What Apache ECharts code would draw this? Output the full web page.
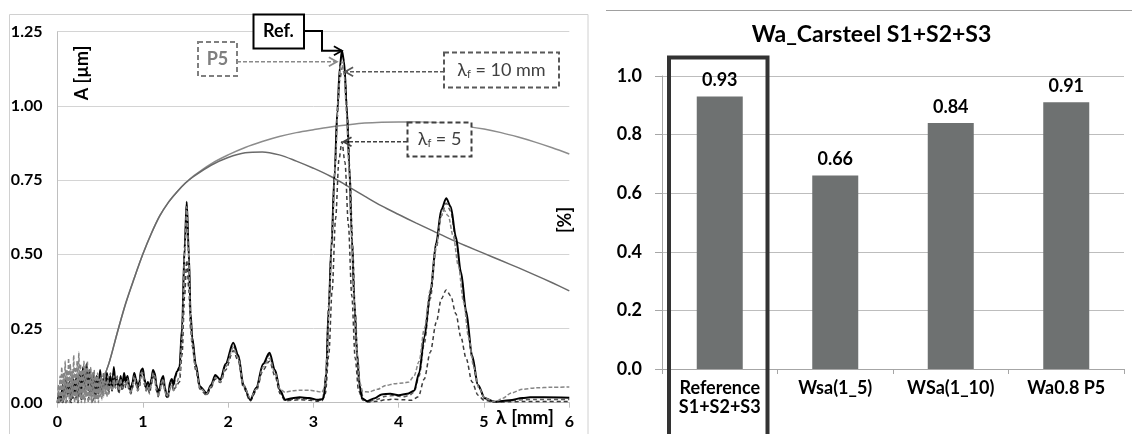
<!DOCTYPE html>
<html>
<head>
<meta charset="utf-8">
<title>Wa_Carsteel</title>
<script src="https://cdn.jsdelivr.net/npm/echarts@6/dist/echarts.min.js"></script>
<style>
    html, body { margin: 0; padding: 0; background: #fff; }
    #main { width: 1132px; height: 434px; }
</style>
</head>
<body>
<div id="main"></div>
<script>
// wavelength grid of the noisy short-wave part [mm]
var lamNoise = [0.00, 0.02, 0.04, 0.06, 0.08, 0.10, 0.12, 0.14, 0.16, 0.18,
    0.20, 0.22, 0.24, 0.26, 0.28, 0.30, 0.32, 0.34, 0.36, 0.38,
    0.40, 0.42, 0.44, 0.46, 0.48, 0.50, 0.52, 0.54, 0.56, 0.58,
    0.60, 0.62, 0.64, 0.66, 0.68, 0.70, 0.72, 0.74, 0.76, 0.78,
    0.80, 0.82, 0.84, 0.86, 0.88, 0.90, 0.92, 0.94, 0.96, 0.98,
    1.00, 1.02, 1.04, 1.06, 1.08, 1.10, 1.12, 1.14, 1.16, 1.18,
    1.20, 1.22, 1.24, 1.26, 1.28, 1.30, 1.32, 1.34, 1.36, 1.38, 1.40];
// finer grid for the P5 profile (dense grey band at the start)
var lamFine = [0.00, 0.01, 0.02, 0.03, 0.04, 0.05, 0.06, 0.07, 0.08, 0.09,
    0.10, 0.11, 0.12, 0.13, 0.14, 0.15, 0.16, 0.17, 0.18, 0.19,
    0.20, 0.21, 0.22, 0.23, 0.24, 0.25, 0.26, 0.27, 0.28, 0.29,
    0.30, 0.31, 0.32, 0.33, 0.34, 0.35, 0.36, 0.37, 0.38, 0.39,
    0.40, 0.41, 0.42, 0.43, 0.44, 0.45, 0.46, 0.47, 0.48, 0.49,
    0.50, 0.51, 0.52, 0.53, 0.54, 0.55, 0.56, 0.57, 0.58, 0.59,
    0.60, 0.62, 0.64, 0.66, 0.68, 0.70, 0.72, 0.74, 0.76, 0.78,
    0.80, 0.82, 0.84, 0.86, 0.88, 0.90, 0.92, 0.94, 0.96, 0.98,
    1.00, 1.02, 1.04, 1.06, 1.08, 1.10, 1.12, 1.14, 1.16, 1.18,
    1.20, 1.22, 1.24, 1.26, 1.28, 1.30, 1.32, 1.34, 1.36, 1.38, 1.40];

// amplitudes A [um]
var refNoise = [0.00, 0.03, 0.01, 0.06, 0.02, 0.08, 0.03, 0.07, 0.01, 0.09,
    0.03, 0.08, 0.02, 0.10, 0.04, 0.12, 0.05, 0.13, 0.06, 0.11,
    0.04, 0.10, 0.03, 0.09, 0.05, 0.11, 0.04, 0.08, 0.06, 0.10,
    0.05, 0.09, 0.04, 0.12, 0.06, 0.08, 0.04, 0.09, 0.05, 0.10,
    0.07, 0.09, 0.06, 0.04, 0.07, 0.10, 0.08, 0.05, 0.07, 0.11,
    0.115, 0.08, 0.05, 0.07, 0.045, 0.08, 0.11, 0.10, 0.06, 0.03,
    0.05, 0.08, 0.09, 0.05, 0.02, 0.03, 0.07, 0.08, 0.06, 0.09, 0.105];
var p5Noise = [0.00, 0.06, 0.00, 0.09, 0.01, 0.12, 0.00, 0.10, 0.01, 0.14,
    0.00, 0.11, 0.02, 0.15, 0.00, 0.13, 0.01, 0.11, 0.02, 0.16,
    0.00, 0.12, 0.01, 0.14, 0.00, 0.17, 0.02, 0.13, 0.00, 0.11,
    0.01, 0.14, 0.00, 0.12, 0.02, 0.14, 0.00, 0.11, 0.01, 0.12,
    0.00, 0.10, 0.02, 0.11, 0.00, 0.09, 0.01, 0.10, 0.00, 0.08,
    0.02, 0.09, 0.01, 0.08, 0.02, 0.10, 0.03, 0.07, 0.02, 0.09,
    0.03, 0.07, 0.04, 0.09, 0.05, 0.08, 0.04, 0.08, 0.05, 0.07,
    0.06, 0.08, 0.05, 0.03, 0.06, 0.09, 0.07, 0.04, 0.06, 0.10,
    0.10, 0.07, 0.04, 0.06, 0.04, 0.07, 0.10, 0.09, 0.05, 0.02,
    0.04, 0.07, 0.08, 0.04, 0.02, 0.03, 0.05, 0.05, 0.04, 0.05, 0.07];
var f10Noise = [0.00, 0.02, 0.00, 0.04, 0.01, 0.06, 0.02, 0.07, 0.01, 0.08,
    0.02, 0.09, 0.03, 0.10, 0.02, 0.11, 0.03, 0.12, 0.04, 0.10,
    0.03, 0.09, 0.04, 0.08, 0.03, 0.09, 0.04, 0.10, 0.05, 0.08,
    0.04, 0.10, 0.05, 0.11, 0.05, 0.09, 0.03, 0.08, 0.04, 0.09,
    0.06, 0.08, 0.05, 0.035, 0.06, 0.09, 0.07, 0.045, 0.06, 0.10,
    0.105, 0.07, 0.045, 0.06, 0.04, 0.07, 0.10, 0.09, 0.05, 0.025,
    0.045, 0.07, 0.08, 0.045, 0.02, 0.025, 0.06, 0.07, 0.05, 0.08, 0.10];
var f5Noise = [0.00, 0.00, 0.01, 0.00, 0.01, 0.00, 0.01, 0.01, 0.00, 0.02,
    0.01, 0.02, 0.00, 0.03, 0.01, 0.02, 0.01, 0.03, 0.01, 0.04,
    0.02, 0.05, 0.02, 0.06, 0.02, 0.07, 0.03, 0.08, 0.04, 0.07,
    0.03, 0.09, 0.04, 0.10, 0.05, 0.08, 0.03, 0.08, 0.04, 0.09,
    0.05, 0.07, 0.04, 0.03, 0.05, 0.08, 0.06, 0.04, 0.05, 0.09,
    0.095, 0.06, 0.04, 0.05, 0.03, 0.06, 0.09, 0.08, 0.04, 0.02,
    0.04, 0.06, 0.07, 0.04, 0.015, 0.02, 0.05, 0.06, 0.04, 0.05, 0.06];

// long-wave part [lambda, A]
var refPeaks = [[1.43, 0.12], [1.46, 0.25], [1.49, 0.52], [1.515, 0.677], [1.54, 0.50], [1.56, 0.30], [1.58, 0.22],
    [1.62, 0.13], [1.67, 0.055], [1.75, 0.032], [1.80, 0.06], [1.85, 0.093], [1.91, 0.078], [1.97, 0.13],
    [2.06, 0.202], [2.12, 0.16], [2.18, 0.06], [2.26, 0.01], [2.33, 0.05], [2.41, 0.13], [2.485, 0.168],
    [2.55, 0.11], [2.61, 0.04], [2.67, 0.01], [2.75, 0.015], [2.84, 0.018], [2.95, 0.016], [3.05, 0.01],
    [3.10, 0.012], [3.12, 0.015], [3.15, 0.10], [3.18, 0.32], [3.21, 0.52], [3.25, 0.78], [3.28, 0.98],
    [3.31, 1.13], [3.334, 1.186], [3.36, 1.15], [3.39, 1.00], [3.42, 0.80], [3.45, 0.56], [3.48, 0.34],
    [3.51, 0.17], [3.54, 0.06], [3.57, 0.015], [3.63, 0.005], [3.72, 0.015], [3.80, 0.028], [3.90, 0.03],
    [4.00, 0.025], [4.10, 0.03], [4.18, 0.04], [4.24, 0.10], [4.30, 0.22], [4.37, 0.37], [4.44, 0.54],
    [4.50, 0.65], [4.557, 0.689], [4.61, 0.66], [4.67, 0.56], [4.73, 0.44], [4.79, 0.31], [4.86, 0.16],
    [4.93, 0.06], [5.01, 0.015], [5.13, 0.003], [5.30, 0.008], [5.45, 0.016], [5.54, 0.018], [5.70, 0.018],
    [6.00, 0.017]];
var p5Peaks = [[1.43, 0.09], [1.46, 0.22], [1.49, 0.50], [1.515, 0.66], [1.54, 0.48], [1.56, 0.28], [1.58, 0.20],
    [1.62, 0.12], [1.67, 0.05], [1.75, 0.03], [1.80, 0.055], [1.85, 0.085], [1.91, 0.07], [1.97, 0.12],
    [2.06, 0.185], [2.12, 0.15], [2.18, 0.06], [2.26, 0.015], [2.33, 0.045], [2.41, 0.12], [2.485, 0.15],
    [2.55, 0.10], [2.61, 0.045], [2.67, 0.035], [2.75, 0.04], [2.84, 0.042], [2.95, 0.042], [3.05, 0.038],
    [3.10, 0.035], [3.13, 0.05], [3.16, 0.15], [3.19, 0.38], [3.22, 0.58], [3.26, 0.82], [3.29, 1.02],
    [3.315, 1.13], [3.334, 1.15], [3.36, 1.11], [3.39, 0.97], [3.42, 0.78], [3.45, 0.55], [3.48, 0.34],
    [3.51, 0.17], [3.54, 0.07], [3.58, 0.037], [3.65, 0.036], [3.75, 0.045], [3.85, 0.058], [3.95, 0.064],
    [4.05, 0.066], [4.12, 0.07], [4.18, 0.09], [4.24, 0.14], [4.30, 0.25], [4.37, 0.38], [4.44, 0.53],
    [4.50, 0.63], [4.53, 0.649], [4.58, 0.63], [4.64, 0.56], [4.70, 0.46], [4.76, 0.34], [4.82, 0.22],
    [4.88, 0.12], [4.94, 0.05], [5.01, 0.015], [5.13, 0.003], [5.22, 0.015], [5.32, 0.033], [5.45, 0.045],
    [5.60, 0.05], [5.80, 0.052], [6.00, 0.053]];
var f10Peaks = [[1.43, 0.11], [1.46, 0.24], [1.49, 0.51], [1.515, 0.665], [1.54, 0.49], [1.56, 0.29], [1.58, 0.21],
    [1.62, 0.125], [1.67, 0.05], [1.75, 0.028], [1.80, 0.055], [1.85, 0.09], [1.91, 0.075], [1.97, 0.125],
    [2.06, 0.195], [2.12, 0.155], [2.18, 0.055], [2.26, 0.008], [2.33, 0.048], [2.41, 0.125], [2.485, 0.162],
    [2.55, 0.105], [2.61, 0.038], [2.67, 0.008], [2.75, 0.012], [2.84, 0.014], [2.95, 0.012], [3.05, 0.008],
    [3.10, 0.01], [3.14, 0.05], [3.18, 0.33], [3.21, 0.52], [3.25, 0.77], [3.28, 0.96], [3.31, 1.09],
    [3.34, 1.13], [3.37, 1.10], [3.40, 0.96], [3.43, 0.76], [3.46, 0.53], [3.49, 0.31], [3.52, 0.15],
    [3.55, 0.05], [3.59, 0.01], [3.65, 0.004], [3.75, 0.012], [3.85, 0.022], [3.95, 0.024], [4.05, 0.02],
    [4.12, 0.024], [4.18, 0.035], [4.24, 0.09], [4.30, 0.20], [4.37, 0.35], [4.44, 0.52], [4.50, 0.63],
    [4.557, 0.672], [4.61, 0.645], [4.67, 0.55], [4.73, 0.43], [4.79, 0.30], [4.86, 0.15], [4.93, 0.055],
    [5.01, 0.015], [5.13, 0.003], [5.30, 0.006], [5.45, 0.01], [5.60, 0.011], [6.00, 0.011]];
var f5Peaks = [[1.43, 0.07], [1.46, 0.16], [1.49, 0.36], [1.515, 0.48], [1.54, 0.38], [1.56, 0.25], [1.58, 0.19],
    [1.62, 0.11], [1.67, 0.045], [1.75, 0.025], [1.80, 0.05], [1.85, 0.08], [1.91, 0.068], [1.97, 0.11],
    [2.06, 0.175], [2.12, 0.14], [2.18, 0.05], [2.26, 0.006], [2.33, 0.04], [2.41, 0.11], [2.485, 0.14],
    [2.55, 0.09], [2.61, 0.03], [2.67, 0.006], [2.75, 0.008], [2.84, 0.01], [2.95, 0.008], [3.05, 0.005],
    [3.10, 0.006], [3.14, 0.03], [3.18, 0.16], [3.22, 0.38], [3.26, 0.62], [3.30, 0.82], [3.334, 0.879],
    [3.37, 0.81], [3.41, 0.60], [3.45, 0.36], [3.49, 0.15], [3.53, 0.04], [3.58, 0.008], [3.65, 0.002],
    [3.75, 0.005], [3.85, 0.01], [3.95, 0.012], [4.05, 0.01], [4.15, 0.008], [4.23, 0.02], [4.30, 0.08],
    [4.37, 0.17], [4.44, 0.27], [4.50, 0.35], [4.557, 0.38], [4.61, 0.36], [4.67, 0.30], [4.73, 0.22],
    [4.79, 0.15], [4.86, 0.07], [4.93, 0.025], [5.00, 0.008], [5.13, 0.002], [5.30, 0.003], [5.45, 0.004],
    [6.00, 0.004]];

// filter transmission curves (right axis [%])
var filterLam = [0.4, 0.5, 0.6, 0.7, 0.8, 0.9, 1.0, 1.1, 1.2, 1.3, 1.4, 1.5, 1.6,
    1.8, 2.0, 2.2, 2.4, 2.6, 2.8, 3.0, 3.2, 3.4, 3.6, 3.8, 4.0, 4.2, 4.4, 4.6, 4.8,
    5.0, 5.2, 5.4, 5.6, 5.8, 6.0];
var filterHigh = [0.00, 0.055, 0.13, 0.235, 0.335, 0.42, 0.50, 0.57, 0.63, 0.675, 0.71, 0.74, 0.765,
    0.805, 0.835, 0.86, 0.88, 0.897, 0.91, 0.92, 0.929, 0.936, 0.942, 0.945, 0.946, 0.946, 0.944, 0.938, 0.931,
    0.922, 0.91, 0.895, 0.878, 0.859, 0.838];
var filterLow = [0.00, 0.055, 0.13, 0.235, 0.335, 0.42, 0.50, 0.57, 0.63, 0.675, 0.71, 0.74, 0.763,
    0.80, 0.826, 0.842, 0.845, 0.835, 0.814, 0.79, 0.763, 0.73, 0.696, 0.663, 0.634, 0.606, 0.579, 0.552, 0.527,
    0.503, 0.479, 0.455, 0.43, 0.404, 0.377];

// bar chart
var barCats = ['Reference\nS1+S2+S3', 'Wsa(1_5)', 'WSa(1_10)', 'Wa0.8 P5'];
var barVals = [0.93, 0.66, 0.84, 0.91];

var FONT = 'Lato, "Open Sans", sans-serif';

function build(lam, noise, peaks) {
    var d = [];
    for (var i = 0; i < lam.length; i++) {
        d.push([lam[i], noise[i]]);
    }
    return peaks ? d.concat(peaks) : d;
}

function lineSeries(name, data, color, width, dash, z) {
    return {
        name: name,
        type: 'line',
        xAxisIndex: 0,
        yAxisIndex: 0,
        data: data,
        showSymbol: false,
        smooth: 0.3,
        smoothMonotone: 'x',
        lineStyle: {color: color, width: width, type: dash},
        z: z
    };
}

var option = {
    animation: false,
    textStyle: {fontFamily: FONT},
    grid: [
        {left: 57.5, right: 562.7, top: 31.7, bottom: 31.3},
        {left: 662, right: 8, top: 76, bottom: 65}
    ],
    xAxis: [
        {
            gridIndex: 0, type: 'value', min: 0, max: 6, interval: 1,
            axisLine: {show: true, lineStyle: {color: '#bfbfbf'}},
            axisTick: {show: true, length: 5, lineStyle: {color: '#bfbfbf'}},
            axisLabel: {color: '#000', fontWeight: 'bold', fontSize: 16, fontFamily: FONT, margin: 11},
            splitLine: {show: false}
        },
        {
            gridIndex: 1, type: 'category', data: barCats,
            axisLine: {show: true, lineStyle: {color: '#a6a6a6'}},
            axisTick: {show: true, length: 5, lineStyle: {color: '#a6a6a6'}},
            axisLabel: {color: '#000', fontWeight: 'bold', fontSize: 18, fontFamily: FONT, margin: 10, lineHeight: 19}
        }
    ],
    yAxis: [
        {
            gridIndex: 0, type: 'value', min: 0, max: 1.25, interval: 0.25,
            axisLine: {show: true, lineStyle: {color: '#bfbfbf'}},
            axisTick: {show: false},
            axisLabel: {
                color: '#000', fontWeight: 'bold', fontSize: 16, fontFamily: FONT, margin: 15,
                formatter: function (v) { return v.toFixed(2); }
            },
            splitLine: {lineStyle: {color: '#d4d4d4'}}
        },
        {
            gridIndex: 0, type: 'value', min: 0, max: 1.25, position: 'right',
            axisLine: {show: false}, axisTick: {show: false},
            axisLabel: {show: false}, splitLine: {show: false}
        },
        {
            gridIndex: 1, type: 'value', min: 0, max: 1, interval: 0.2,
            axisLine: {show: true, lineStyle: {color: '#a6a6a6'}},
            axisTick: {show: true, length: 7, lineStyle: {color: '#a6a6a6'}},
            axisLabel: {
                color: '#000', fontWeight: 'bold', fontSize: 18, fontFamily: FONT, margin: 20,
                formatter: function (v) { return v.toFixed(1); }
            },
            splitLine: {lineStyle: {color: '#bdbdbd'}}
        }
    ],
    series: [
        {
            name: 'filter 1', type: 'line', xAxisIndex: 0, yAxisIndex: 1, data: build(filterLam, filterHigh),
            showSymbol: false, smooth: 0.35, lineStyle: {color: '#8c8c8c', width: 1.5}, z: 1
        },
        {
            name: 'filter 2', type: 'line', xAxisIndex: 0, yAxisIndex: 1, data: build(filterLam, filterLow),
            showSymbol: false, smooth: 0.35, lineStyle: {color: '#6a6a6a', width: 1.5}, z: 1
        },
        lineSeries('λf = 5', build(lamNoise, f5Noise, f5Peaks), '#3c3c3c', 1.5, [4, 3], 2),
        lineSeries('λf = 10 mm', build(lamNoise, f10Noise, f10Peaks), '#5a5a5a', 1.5, [4, 3], 2),
        lineSeries('Ref.', build(lamNoise, refNoise, refPeaks), '#000', 2, 'solid', 3),
        lineSeries('P5', build(lamFine, p5Noise, p5Peaks), '#858585', 1.5, [4, 2], 4),
        {
            name: 'Wa', type: 'bar', xAxisIndex: 1, yAxisIndex: 2, data: barVals,
            barWidth: 46,
            itemStyle: {color: '#6e7171'},
            label: {
                show: true, position: 'top', distance: 7, color: '#000',
                fontWeight: 'bold', fontSize: 18, fontFamily: FONT,
                formatter: function (p) { return p.value.toFixed(2); }
            }
        }
    ]
};

var myChart = echarts.init(document.getElementById('main'));
myChart.setOption(option);

// arrow head pointing along dir (+1 right, -1 left)
function head(tip, dir, color) {
    return {
        type: 'polyline', z: 101,
        shape: {points: [[tip[0] - dir * 8, tip[1] - 4.5], tip, [tip[0] - dir * 8, tip[1] + 4.5]]},
        style: {stroke: color, lineWidth: 1.8, fill: null}
    };
}
function box(x, y, w, h, color, dash) {
    return {
        type: 'rect', z: 100,
        shape: {x: x, y: y, width: w, height: h},
        style: {fill: '#fff', stroke: color, lineWidth: 2, lineDash: dash}
    };
}
function label(text, x, y, font, color, rich) {
    return {
        type: 'text', z: 102,
        style: {text: text, x: x, y: y, font: font, fill: color, textAlign: 'center', textVerticalAlign: 'middle', rich: rich}
    };
}

var px = function (p) { return myChart.convertToPixel({xAxisIndex: 0, yAxisIndex: 0}, p); };
var tipRef = px([3.334, 1.186]);
var tipP5 = px([3.275, 1.149]);
var tipF10 = px([3.372, 1.115]);
var tipF5 = px([3.353, 0.879]);
var sub = {f: {fontSize: 11, fill: '#404040', fontFamily: FONT, verticalAlign: 'bottom', padding: [8, 0, 0, 0]}};

myChart.setOption({
    graphic: [
        // frames
        {type: 'rect', z: 0, shape: {x: 9.5, y: 14.5, width: 578.5, height: 430}, style: {fill: null, stroke: '#d0d0d0', lineWidth: 1}},
        {type: 'line', z: 0, shape: {x1: 606, y1: 10.5, x2: 1132, y2: 10.5}, style: {stroke: '#a0a0a0', lineWidth: 1}},
        // axis titles
        {type: 'text', z: 50, x: 82, y: 73, rotation: Math.PI / 2,
            style: {text: 'A [µm]', font: 'bold 18px ' + FONT, fill: '#000', textAlign: 'center', textVerticalAlign: 'middle'}},
        {type: 'text', z: 50, x: 565, y: 220, rotation: Math.PI / 2,
            style: {text: '[%]', font: 'bold 18px ' + FONT, fill: '#000', textAlign: 'center', textVerticalAlign: 'middle'}},
        label('λ [mm]', 525, 418, 'bold 19px ' + FONT, '#000'),
        // Ref.
        {type: 'polyline', z: 101, shape: {points: [[304, 31], [322, 31], [322, tipRef[1]], tipRef]}, style: {stroke: '#000', lineWidth: 2, fill: null}},
        head(tipRef, 1, '#000'),
        box(253.5, 14.5, 50.5, 34, '#000', null),
        label('Ref.', 278.5, 31.5, 'bold 18px ' + FONT, '#000'),
        // P5
        {type: 'line', z: 101, shape: {x1: 237, y1: tipP5[1], x2: tipP5[0], y2: tipP5[1]}, style: {stroke: '#8a8a8a', lineWidth: 1.5, lineDash: [4, 2]}},
        head(tipP5, 1, '#8a8a8a'),
        box(198, 42, 39, 34, '#7f7f7f', [5, 3]),
        label('P5', 217.5, 59, 'bold 18px ' + FONT, '#7f7f7f'),
        // lambda_f = 10 mm
        {type: 'line', z: 101, shape: {x1: 444, y1: tipF10[1], x2: tipF10[0], y2: tipF10[1]}, style: {stroke: '#595959', lineWidth: 1.5, lineDash: [4, 2]}},
        head(tipF10, -1, '#595959'),
        box(444, 52.5, 115, 35, '#595959', [5, 3]),
        label('λ{f|f} = 10 mm', 501.5, 70, '18px ' + FONT, '#404040', sub),
        // lambda_f = 5
        {type: 'line', z: 101, shape: {x1: 407, y1: tipF5[1], x2: tipF5[0], y2: tipF5[1]}, style: {stroke: '#404040', lineWidth: 1.5, lineDash: [4, 2]}},
        head(tipF5, -1, '#404040'),
        box(407.5, 122.5, 64, 34, '#404040', [5, 3]),
        label('λ{f|f} = 5', 439.5, 139.5, '18px ' + FONT, '#404040', sub),
        // bar chart title and highlight frame
        label('Wa_Carsteel S1+S2+S3', 871.5, 35, 'bold 23px ' + FONT, '#000'),
        {type: 'rect', z: 100, shape: {x: 669, y: 57.5, width: 98.5, height: 400}, style: {fill: null, stroke: '#333', lineWidth: 4}}
    ]
});
</script>
</body>
</html>
